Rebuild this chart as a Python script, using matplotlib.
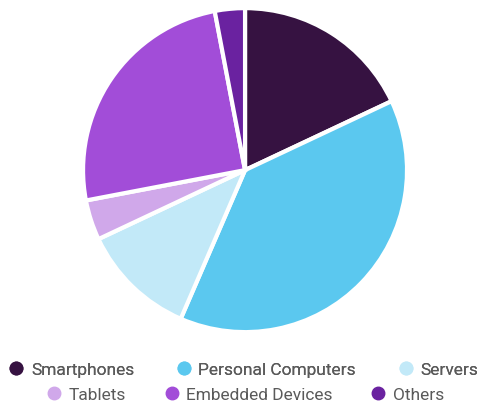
import matplotlib
matplotlib.use("Agg")
import matplotlib.pyplot as plt
from matplotlib.lines import Line2D

categories = ["Smartphones", "Personal Computers", "Servers", "Tablets", "Embedded Devices", "Others"]
values = [18, 38.5, 11.5, 4, 25, 3]
colors = ["#361241", "#5bc8ef", "#c2e9f8", "#d0a8ea", "#a24dd8", "#6a22a0"]

plt.rcParams['font.family'] = ['Roboto', 'DejaVu Sans']
fig = plt.figure(figsize=(4.8, 4.07), dpi=100)
ax = fig.add_axes([0.173, 0.184, 0.675, 0.796])
ax.pie(values, colors=colors, startangle=90, counterclock=False,
       wedgeprops=dict(edgecolor="white", linewidth=3))
ax.set_xlim(-1.0, 1.0)
ax.set_ylim(-1.0, 1.0)
ax.set_aspect('equal')

def handles(idx):
    return [Line2D([0], [0], marker='o', linestyle='', markersize=9,
                   markerfacecolor=colors[i], markeredgecolor=colors[i]) for i in idx]

def make_legend(idx, x, y, spacing):
    leg = fig.legend(handles(idx), [categories[i] for i in idx], loc="center",
                     bbox_to_anchor=(x, y), frameon=False, ncol=3,
                     handletextpad=0.35, columnspacing=spacing, fontsize=12.5,
                     handlelength=1.0, borderaxespad=0)
    for t in leg.get_texts():
        t.set_color("#5a5a5a")
    return leg

l1 = make_legend([0, 1, 2], 0.506, 1 - 370/407, 2.35)
fig.add_artist(l1)
make_legend([3, 4, 5], 0.51, 1 - 395/407, 2.1)

fig.savefig("out.png", dpi=100)
